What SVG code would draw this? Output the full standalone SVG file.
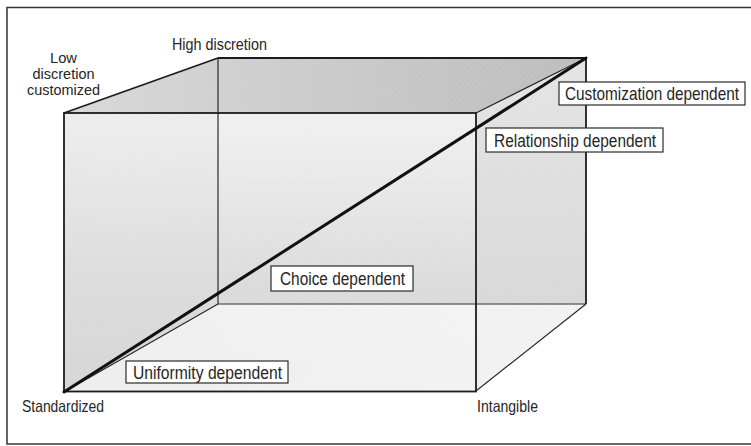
<svg xmlns="http://www.w3.org/2000/svg" width="751" height="446" viewBox="0 0 751 446">
  <style>
    .lbl { font-family: "Liberation Sans", Arial, sans-serif; font-size: 16.5px; fill: #262626; }
    .lbl-stack { font-family: "Liberation Sans", Arial, sans-serif; font-size: 15px; fill: #262626; }
    .box-lbl { font-family: "Liberation Sans", Arial, sans-serif; font-size: 17.5px; fill: #262626; }
    .box { fill: #ffffff; stroke: #2a2a2a; stroke-width: 1.2; }
    .edge { fill: none; stroke: #1c1c1c; stroke-width: 1.8; stroke-linejoin: miter; }
    .edge-thin { fill: none; stroke: #2a2a2a; stroke-width: 1.2; }
    .edge-soft { fill: none; stroke: #6e6e6e; stroke-width: 1.4; }
  </style>
  <defs>
    <linearGradient id="gTop" x1="0" y1="0" x2="1" y2="0">
      <stop offset="0" stop-color="#d8d8d8"/>
      <stop offset="1" stop-color="#bcbcbc"/>
    </linearGradient>
    <linearGradient id="gBack" x1="0" y1="0" x2="0" y2="1">
      <stop offset="0" stop-color="#dcdcdc"/>
      <stop offset="1" stop-color="#d2d2d2"/>
    </linearGradient>
    <linearGradient id="gSide" x1="0" y1="0" x2="0" y2="1">
      <stop offset="0" stop-color="#e4e4e4"/>
      <stop offset="1" stop-color="#d4d4d4"/>
    </linearGradient>
    <linearGradient id="gFloor" x1="0" y1="0" x2="1" y2="0">
      <stop offset="0" stop-color="#ececec"/>
      <stop offset="1" stop-color="#f2f2f2"/>
    </linearGradient>
    <linearGradient id="gFront" x1="0" y1="0" x2="0" y2="1">
      <stop offset="0" stop-color="#ffffff" stop-opacity="0.6"/>
      <stop offset="0.6" stop-color="#ffffff" stop-opacity="0.2"/>
      <stop offset="1" stop-color="#ffffff" stop-opacity="0.05"/>
    </linearGradient>
    <pattern id="hatch" width="4" height="4" patternUnits="userSpaceOnUse" patternTransform="rotate(40)">
      <line x1="0" y1="0" x2="0" y2="4" stroke="#ffffff" stroke-width="0.6" stroke-opacity="0.35"/>
    </pattern>
  </defs>

  <!-- outer frame -->
  <rect x="7" y="7.5" width="760" height="436.5" fill="#ffffff" stroke="#333333" stroke-width="1.5"/>

  <!-- cube faces, back to front -->
  <g id="cube-faces">
    <rect x="218" y="58" width="368" height="246" fill="url(#gBack)"/>
    <polygon points="64,113 218,58 218,304 64,392" fill="#d3d3d3"/>
    <polygon points="476,113 586,58 586,304 476,391" fill="url(#gSide)"/>
    <polygon points="64,392 218,304 586,304 476,391" fill="url(#gFloor)"/>
    <polygon points="64,113 218,58 586,58 476,113" fill="url(#gTop)"/>
    <rect x="64" y="113" width="412" height="279" fill="url(#gFront)"/>
    <polygon points="64,113 218,58 586,58 586,304 476,391 64,392" fill="url(#hatch)"/>
  </g>

  <!-- cube edges -->
  <g id="cube-edges">
    <line class="edge-soft" x1="218" y1="304" x2="586" y2="304"/>
    <line class="edge-thin" x1="218" y1="58" x2="218" y2="304"/>
    <line class="edge-thin" x1="64" y1="392" x2="218" y2="304"/>
    <line class="edge-thin" x1="476" y1="113" x2="586" y2="58"/>
    <line class="edge-thin" x1="476" y1="391" x2="586" y2="304"/>
    <line class="edge" x1="64" y1="113" x2="218" y2="58"/>
    <polyline class="edge" points="218,58 586,58 586,304"/>
    <rect class="edge" x="64" y="113" width="412" height="278.5"/>
  </g>

  <!-- diagonal from standardized to customized corner -->
  <g id="connectors">
    <line x1="64" y1="392" x2="586" y2="58" stroke="#111111" stroke-width="3" stroke-linecap="round"/>
  </g>

  <!-- corner labels -->
  <g id="label-high-discretion">
    <text class="lbl" x="172" y="50" textLength="95" lengthAdjust="spacingAndGlyphs">High discretion</text>
  </g>
  <g id="label-low-discretion">
    <text class="lbl-stack" x="63.5" y="63" text-anchor="middle" textLength="27" lengthAdjust="spacingAndGlyphs">Low</text>
    <text class="lbl-stack" x="63.5" y="79" text-anchor="middle" textLength="62" lengthAdjust="spacingAndGlyphs">discretion</text>
    <text class="lbl-stack" x="63.5" y="95" text-anchor="middle" textLength="73" lengthAdjust="spacingAndGlyphs">customized</text>
  </g>
  <g id="label-standardized">
    <text class="lbl" x="22" y="412" textLength="82" lengthAdjust="spacingAndGlyphs">Standardized</text>
  </g>
  <g id="label-intangible">
    <text class="lbl" x="477" y="412" textLength="61" lengthAdjust="spacingAndGlyphs">Intangible</text>
  </g>

  <!-- boxed labels along the diagonal -->
  <g id="node-customization">
    <rect class="box" x="559" y="82" width="186" height="23"/>
    <!-- horizontally condensed via transform so the label stays inside its box -->
    <text class="box-lbl" transform="translate(565,100) scale(0.88,1)" x="0" y="0" textLength="197.7" lengthAdjust="spacingAndGlyphs">Customization dependent</text>
  </g>
  <g id="node-relationship">
    <rect class="box" x="486" y="128" width="177" height="24"/>
    <text class="box-lbl" x="494" y="147" textLength="162" lengthAdjust="spacingAndGlyphs">Relationship dependent</text>
  </g>
  <g id="node-choice">
    <rect class="box" x="271" y="266" width="142" height="25"/>
    <text class="box-lbl" x="280" y="285" textLength="125" lengthAdjust="spacingAndGlyphs">Choice dependent</text>
  </g>
  <g id="node-uniformity">
    <rect class="box" x="126" y="361" width="162" height="22"/>
    <text class="box-lbl" x="133" y="379" textLength="149" lengthAdjust="spacingAndGlyphs">Uniformity dependent</text>
  </g>
</svg>
